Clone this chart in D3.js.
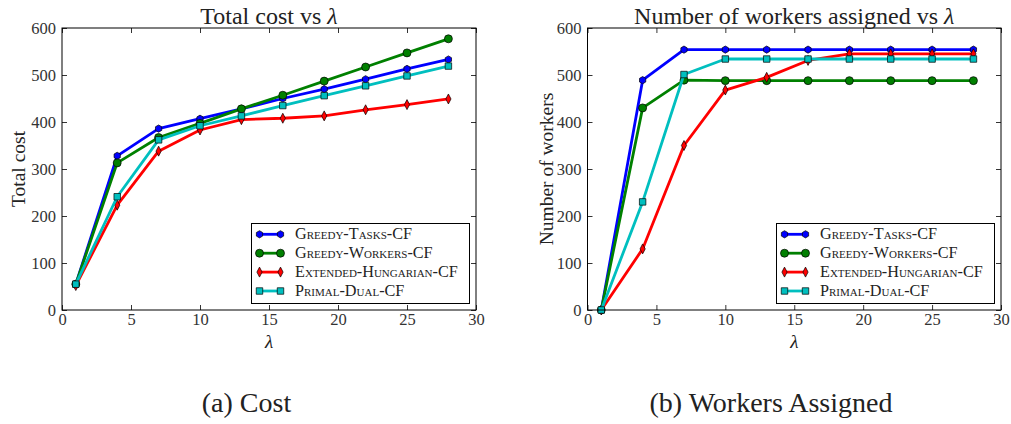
<!DOCTYPE html>
<html><head><meta charset="utf-8">
<script src="https://cdn.jsdelivr.net/npm/d3@7"></script>
<style>
body{margin:0;background:#fff;}
</style></head>
<body>
<svg id="c" width="1011" height="424"></svg>
<script>
const lambdas = [1,4,7,10,13,16,19,22,25,28];
const seriesNames = ["Greedy-Tasks-CF","Greedy-Workers-CF","Extended-Hungarian-CF","Primal-Dual-CF"];
const costGreedyTasks = [55,328,386,407,428,450,470,491,513,533];
const costGreedyWorkers = [55,313,367,397,428,457,487,517,547,577];
const costExtHungarian = [52,223,338,383,405,408,413,426,437,449];
const costPrimalDual = [55,241,362,392,413,435,456,477,498,519];
const wrkGreedyTasks = [0,489,554,554,554,554,554,554,554,554];
const wrkGreedyWorkers = [0,430,489,488,488,488,488,488,488,488];
const wrkExtHungarian = [0,130,350,468,495,531,545,545,545,545];
const wrkPrimalDual = [0,230,501,534,534,534,534,534,534,534];
const xTicks = [0,5,10,15,20,25,30];
const yTicks = [0,100,200,300,400,500,600];

const colors = ["#0000ff","#008000","#ff0000","#00bfbf"];
const markers = ["hex","circle","thindiamond","square"];
const FONT = '"Liberation Serif"';

const svg = d3.select("#c");

function markerPath(type){
  if(type==="circle") return d3.symbol(d3.symbolCircle, 50)();
  if(type==="square") return d3.symbol(d3.symbolSquare, 42)();
  if(type==="hex"){
    const r=3.6; let p="";
    for(let i=0;i<6;i++){const a=Math.PI/3*i+Math.PI/6; p+=(i?"L":"M")+(r*Math.cos(a)).toFixed(2)+","+(r*Math.sin(a)).toFixed(2);}
    return p+"Z";
  }
  if(type==="thindiamond") return "M0,-5L2.6,0L0,5L-2.6,0Z";
}

function panel(opt){
  const g = svg.append("g");
  const x = d3.scaleLinear().domain([0,30]).range([opt.left,opt.right]);
  const y = d3.scaleLinear().domain([0,600]).range([opt.bottom,opt.top]);
  const W = opt.right-opt.left, H = opt.bottom-opt.top;
  g.append("g").attr("transform",`translate(0,${opt.bottom})`)
    .call(d3.axisBottom(x).tickValues(xTicks).tickSize(-5).tickPadding(3).tickFormat(d3.format("d")))
    .call(a=>a.select(".domain").remove());
  g.append("g").attr("transform",`translate(0,${opt.top})`)
    .call(d3.axisTop(x).tickValues(xTicks).tickSize(-5).tickFormat(""))
    .call(a=>a.select(".domain").remove());
  g.append("g").attr("transform",`translate(${opt.left},0)`)
    .call(d3.axisLeft(y).tickValues(yTicks).tickSize(-5).tickPadding(6).tickFormat(d3.format("d")))
    .call(a=>a.select(".domain").remove());
  g.append("g").attr("transform",`translate(${opt.right},0)`)
    .call(d3.axisRight(y).tickValues(yTicks).tickSize(-5).tickFormat(""))
    .call(a=>a.select(".domain").remove());
  g.selectAll(".tick text").attr("font-size",16.5).attr("fill","#333").style("font-family",FONT);
  g.selectAll(".tick line").attr("stroke","#000").attr("stroke-width",0.8);

  const line = d3.line().x((d,i)=>x(lambdas[i])).y(d=>y(d));
  opt.data.forEach((s,k)=>{
    g.append("path").attr("d",line(s)).attr("fill","none").attr("stroke",colors[k]).attr("stroke-width",2.8).attr("stroke-linejoin","round");
    g.selectAll(null).data(s).enter().append("path")
      .attr("d",markerPath(markers[k]))
      .attr("transform",(d,i)=>`translate(${x(lambdas[i])},${y(d)})`)
      .attr("fill",colors[k]).attr("stroke","#000").attr("stroke-width",0.7);
  });
  g.append("rect").attr("x",opt.left).attr("y",opt.top).attr("width",W).attr("height",H)
    .attr("fill","none").attr("stroke","#000").attr("stroke-width",1);

  const t = g.append("text").attr("x",(opt.left+opt.right)/2).attr("y",24)
    .attr("text-anchor","middle").attr("font-size",24).attr("fill","#222").style("font-family",FONT);
  t.append("tspan").text(opt.title+" ");
  t.append("tspan").attr("font-style","italic").text("λ");
  g.append("text").attr("x",(opt.left+opt.right)/2).attr("y",348).style("font-family",FONT)
    .attr("text-anchor","middle").attr("font-size",19).attr("font-style","italic").attr("fill","#222").text("λ");
  g.append("text").attr("transform",`translate(${opt.ylabX},${(opt.top+opt.bottom)/2}) rotate(-90)`).style("font-family",FONT)
    .attr("text-anchor","middle").attr("font-size",19.5).attr("fill","#222").text(opt.ylabel);

  const lx = opt.legX, ly = 223.5, lw = 218, lh = 80;
  const lg = g.append("g");
  lg.append("rect").attr("x",lx).attr("y",ly).attr("width",lw).attr("height",lh)
    .attr("fill","#fff").attr("stroke","#000").attr("stroke-width",1);
  seriesNames.forEach((n,k)=>{
    const yy = ly+10.8+k*18.9;
    lg.append("line").attr("x1",lx+8).attr("x2",lx+29).attr("y1",yy).attr("y2",yy)
      .attr("stroke",colors[k]).attr("stroke-width",2.8);
    [lx+8,lx+29].forEach(mx=>lg.append("path").attr("d",markerPath(markers[k]))
      .attr("transform",`translate(${mx},${yy})`).attr("fill",colors[k]).attr("stroke","#000").attr("stroke-width",0.7));
    lg.append("text").attr("x",lx+43.5).attr("y",yy+5).attr("font-size",16.2).style("font-family",FONT)
      .style("font-variant","small-caps").attr("fill","#222").text(n);
  });
  svg.append("text").attr("x",opt.capX).attr("y",412).attr("text-anchor","middle").style("font-family",FONT)
    .attr("font-size",28).attr("fill","#222").text(opt.caption);
}

panel({left:62,right:476,top:28,bottom:310,title:"Total cost vs",ylabel:"Total cost",ylabX:25,legX:251.5,
  data:[costGreedyTasks,costGreedyWorkers,costExtHungarian,costPrimalDual],caption:"(a) Cost",capX:246.5});
panel({left:587.5,right:1001,top:28,bottom:310,title:"Number of workers assigned vs",ylabel:"Number of workers",ylabX:553,legX:776.5,
  data:[wrkGreedyTasks,wrkGreedyWorkers,wrkExtHungarian,wrkPrimalDual],caption:"(b) Workers Assigned",capX:771});
</script>
</body></html>
